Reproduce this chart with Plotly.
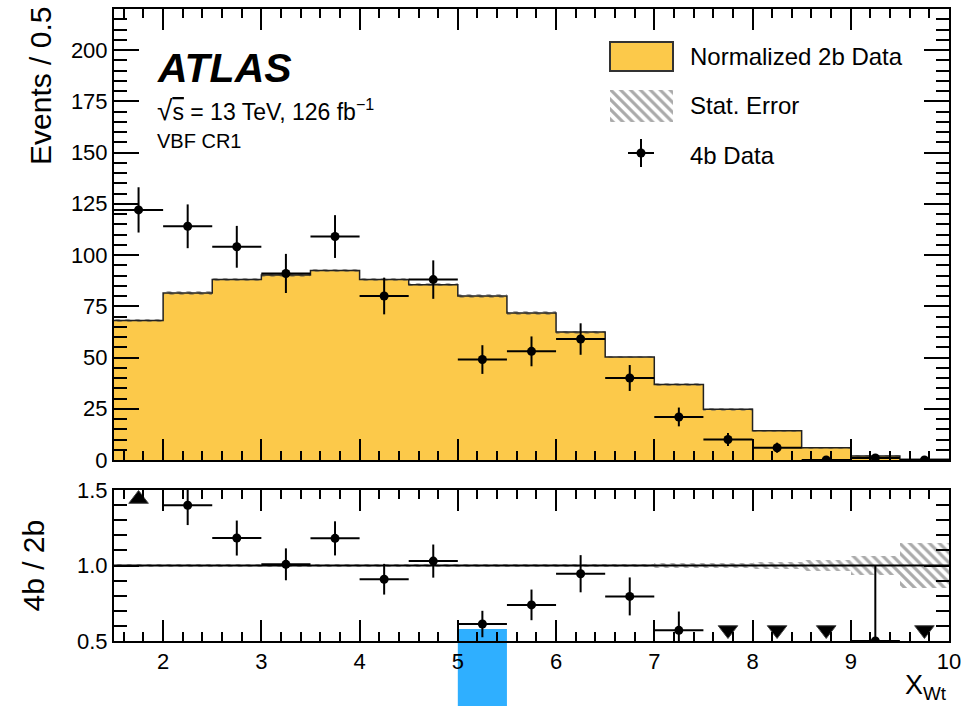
import numpy as np
import plotly.graph_objects as go

# ---- binning and contents ------------------------------------------------
bin_edges = [1.5, 2.0, 2.5, 3.0, 3.5, 4.0, 4.5, 5.0, 5.5, 6.0,
             6.5, 7.0, 7.5, 8.0, 8.5, 9.0, 9.5, 10.0]

# normalized 2b data (background estimate), events per bin
norm_2b = [68.0, 81.5, 88.0, 90.3, 92.4, 88.0, 85.5, 80.0, 71.7,
           62.4, 50.3, 36.8, 24.8, 14.3, 6.0, 2.0, 0.37]
# statistical uncertainty on the normalized 2b data
stat_err_2b = [0.74, 0.81, 0.84, 0.85, 0.86, 0.84, 0.83, 0.80, 0.76,
               0.71, 0.63, 0.54, 0.45, 0.34, 0.22, 0.13, 0.054]
# observed 4b data counts
data_4b = [122, 114, 104, 91, 109, 80, 88, 49, 53, 59, 40, 21, 10, 6, 0, 1, 0]

x_ticks = [2, 3, 4, 5, 6, 7, 8, 9, 10]
y_ticks_top = [0, 25, 50, 75, 100, 125, 150, 175, 200]
y_ticks_ratio = [0.5, 1.0, 1.5]
highlight_bin = 7  # bin 5.0 - 5.5

# ---- styling -------------------------------------------------------------
FONT = "Liberation Sans, Arial, Helvetica, sans-serif"
YELLOW = "#FCC94A"
HATCH = "#555555"
BLUE = "#2FAFFF"
W, H = 976, 706
ML, MR, MT, MB = 114, 27, 9, 65
PW, PH = W - ML - MR, H - MT - MB
TOP_BOTTOM_PX, RATIO_TOP_PX = 460, 490
RATIO_RANGE = (0.5, 1.5)
UP_MARK, DOWN_MARK = 1.44, 0.573


def py(px):
    """pixel row -> paper fraction"""
    return (H - MB - px) / PH


edges = np.array(bin_edges)
centers = 0.5 * (edges[:-1] + edges[1:])
widths = edges[1:] - edges[:-1]
bkg = np.array(norm_2b)
bkg_err = np.array(stat_err_2b)
obs = np.array(data_4b, dtype=float)
obs_err = np.sqrt(obs)

ratio = obs / bkg
ratio_err = obs_err / bkg
rel_err = bkg_err / bkg

hatch = dict(shape="\\", fgcolor=HATCH, bgcolor="rgba(0,0,0,0)", size=7,
             solidity=0.45)

fig = go.Figure()

# ---- upper panel ---------------------------------------------------------
fig.add_bar(x=centers, y=bkg, width=widths, xaxis="x", yaxis="y",
            marker=dict(color=YELLOW, line_width=0), showlegend=False)
fig.add_scatter(x=edges, y=np.append(bkg, bkg[-1]), mode="lines",
                line=dict(shape="hv", color="#222", width=1.5),
                xaxis="x", yaxis="y", showlegend=False)
fig.add_bar(x=centers, y=2 * bkg_err, base=bkg - bkg_err, width=widths,
            xaxis="x", yaxis="y", showlegend=False,
            marker=dict(color=HATCH, line_width=0, pattern=hatch))
fig.add_scatter(x=centers, y=obs, mode="markers", xaxis="x", yaxis="y",
                marker=dict(color="black", size=9),
                error_x=dict(type="data", array=widths / 2, width=0,
                             thickness=2, color="black"),
                error_y=dict(type="data", array=obs_err, width=0,
                             thickness=2, color="black"),
                showlegend=False)

# ---- ratio panel ---------------------------------------------------------
fig.add_bar(x=centers, y=2 * rel_err, base=1 - rel_err, width=widths,
            xaxis="x2", yaxis="y2", showlegend=False,
            marker=dict(color=HATCH, line_width=0, pattern=hatch))

inside = (ratio >= RATIO_RANGE[0]) & (ratio <= RATIO_RANGE[1])
above = ratio > RATIO_RANGE[1]
below = ratio < RATIO_RANGE[0]

fig.add_scatter(x=centers[inside], y=ratio[inside], mode="markers",
                xaxis="x2", yaxis="y2", marker=dict(color="black", size=9),
                error_x=dict(type="data", array=widths[inside] / 2, width=0,
                             thickness=2, color="black"),
                error_y=dict(type="data", array=ratio_err[inside], width=0,
                             thickness=2, color="black"),
                showlegend=False)
fig.add_scatter(x=centers[above], y=np.full(above.sum(), UP_MARK),
                mode="markers", xaxis="x2", yaxis="y2", showlegend=False,
                marker=dict(symbol="triangle-up", size=17, color="black",
                            line=dict(color="#444", width=1)))
fig.add_scatter(x=centers[below], y=np.full(below.sum(), DOWN_MARK),
                mode="markers", xaxis="x2", yaxis="y2", showlegend=False,
                marker=dict(symbol="triangle-down", size=17, color="black",
                            line=dict(color="#444", width=1)))

# ---- legend (drawn on an overlay axis in pixel units) ----------------------
fig.add_scatter(x=[610, 673, 673, 610, 610], y=[90, 90, 122, 122, 90],
                mode="none", fill="toself", fillcolor="white",
                fillpattern=dict(shape="\\", fgcolor=HATCH, bgcolor="white",
                                 size=7, solidity=0.45),
                xaxis="x3", yaxis="y3", showlegend=False, hoverinfo="skip")
fig.add_scatter(x=[641], y=[153], mode="markers", xaxis="x3", yaxis="y3",
                marker=dict(color="black", size=9),
                error_x=dict(type="data", array=[13], width=0, thickness=2,
                             color="black"),
                error_y=dict(type="data", array=[14], width=0, thickness=2,
                             color="black"),
                showlegend=False, hoverinfo="skip")

shapes = [
    dict(type="rect", xref="x3", yref="y3", x0=610, x1=673, y0=42, y1=71,
         fillcolor=YELLOW, line=dict(color="#333", width=2)),
    dict(type="line", xref="x2 domain", x0=0, x1=1, yref="y2", y0=1, y1=1,
         line=dict(color="black", width=2)),
    dict(type="rect", xref="x2", x0=edges[highlight_bin],
         x1=edges[highlight_bin + 1], yref="paper", y0=-0.3, y1=py(629),
         fillcolor=BLUE, line_width=0, layer="below"),
]

annotations = [
    dict(text="ATLAS", xref="x3", yref="y3", x=155, y=68, xanchor="left",
         yanchor="middle", showarrow=False,
         font=dict(family=FONT, size=41, weight="bold", style="italic",
                   color="black")),
    dict(text="<span style=\"font-size:28px\">√</span>"
              "<span style=\"text-decoration:overline\">s</span> = 13 TeV, "
              "126 fb<sup>−1</sup>",
         xref="x3", yref="y3", x=155, y=110, xanchor="left",
         yanchor="middle", showarrow=False,
         font=dict(family=FONT, size=23, color="black")),
    dict(text="VBF CR1", xref="x3", yref="y3", x=155, y=141, xanchor="left",
         yanchor="middle", showarrow=False,
         font=dict(family=FONT, size=20, color="black")),
    dict(text="Normalized 2b Data", xref="x3", yref="y3", x=688, y=56,
         xanchor="left", yanchor="middle", showarrow=False,
         font=dict(family=FONT, size=24, color="black")),
    dict(text="Stat. Error", xref="x3", yref="y3", x=688, y=105,
         xanchor="left", yanchor="middle", showarrow=False,
         font=dict(family=FONT, size=24, color="black")),
    dict(text="4b Data", xref="x3", yref="y3", x=688, y=155,
         xanchor="left", yanchor="middle", showarrow=False,
         font=dict(family=FONT, size=24, color="black")),
    dict(text="Events / 0.5", xref="paper", yref="paper", x=0, y=1,
         xshift=-ML + 40, yshift=4, textangle=-90, xanchor="center",
         yanchor="top", showarrow=False,
         font=dict(family=FONT, size=30, color="black")),
    dict(text="4b / 2b", xref="paper", yref="paper", x=0,
         y=0.5 * py(RATIO_TOP_PX), xshift=-ML + 33, textangle=-90,
         xanchor="center", yanchor="middle", showarrow=False,
         font=dict(family=FONT, size=30, color="black")),
    dict(text="X<sub>Wt</sub>", xref="paper", yref="paper", x=1, y=0,
         yshift=-27, xanchor="right", yanchor="top", showarrow=False,
         font=dict(family=FONT, size=27, color="black")),
]


def linear_ticks(vals):
    return dict(tickmode="linear", tick0=vals[0], dtick=vals[1] - vals[0])


def minor(length, step):
    return dict(ticks="inside", ticklen=length, dtick=step, tick0=0,
                tickwidth=1.5, tickcolor="black", showgrid=False)


xcommon = dict(range=[bin_edges[0], bin_edges[-1]], **linear_ticks(x_ticks),
               ticks="inside", ticklen=21, tickwidth=1.5, tickcolor="black",
               showline=True, linecolor="black", linewidth=2,
               mirror="allticks", showgrid=False, zeroline=False,
               automargin=False, minor=minor(9, 0.2),
               tickfont=dict(family=FONT, size=22, color="black"))
ycommon = dict(ticks="inside", ticklen=25, tickwidth=1.5, tickcolor="black",
               showline=True, linecolor="black", linewidth=2,
               mirror="allticks", showgrid=False, zeroline=False,
               automargin=False,
               tickfont=dict(family=FONT, size=22, color="black"))

fig.update_layout(
    width=W, height=H,
    margin=dict(l=ML, r=MR, t=MT, b=MB, pad=0),
    paper_bgcolor="white", plot_bgcolor="rgba(0,0,0,0)",
    barmode="overlay", bargap=0,
    font=dict(family=FONT, color="black"),
    showlegend=False,
    xaxis=dict(domain=[0, 1], anchor="y", showticklabels=False, **xcommon),
    yaxis=dict(domain=[py(TOP_BOTTOM_PX), 1], anchor="x", range=[0, 220],
               **linear_ticks(y_ticks_top), minor=minor(13, 5), **ycommon),
    xaxis2=dict(domain=[0, 1], anchor="y2", showticklabels=True, **xcommon),
    yaxis2=dict(domain=[0, py(RATIO_TOP_PX)], anchor="x2",
                range=list(RATIO_RANGE), **linear_ticks(y_ticks_ratio),
                tickformat=".1f", minor=minor(13, 0.1), **ycommon),
    xaxis3=dict(domain=[0, 1], anchor="y3", range=[ML, W - MR],
                visible=False, fixedrange=True, automargin=False),
    yaxis3=dict(domain=[0, 1], anchor="x3", range=[H - MB, MT],
                visible=False, fixedrange=True, automargin=False),
    shapes=shapes,
    annotations=annotations,
)

fig.write_html("out.html")
